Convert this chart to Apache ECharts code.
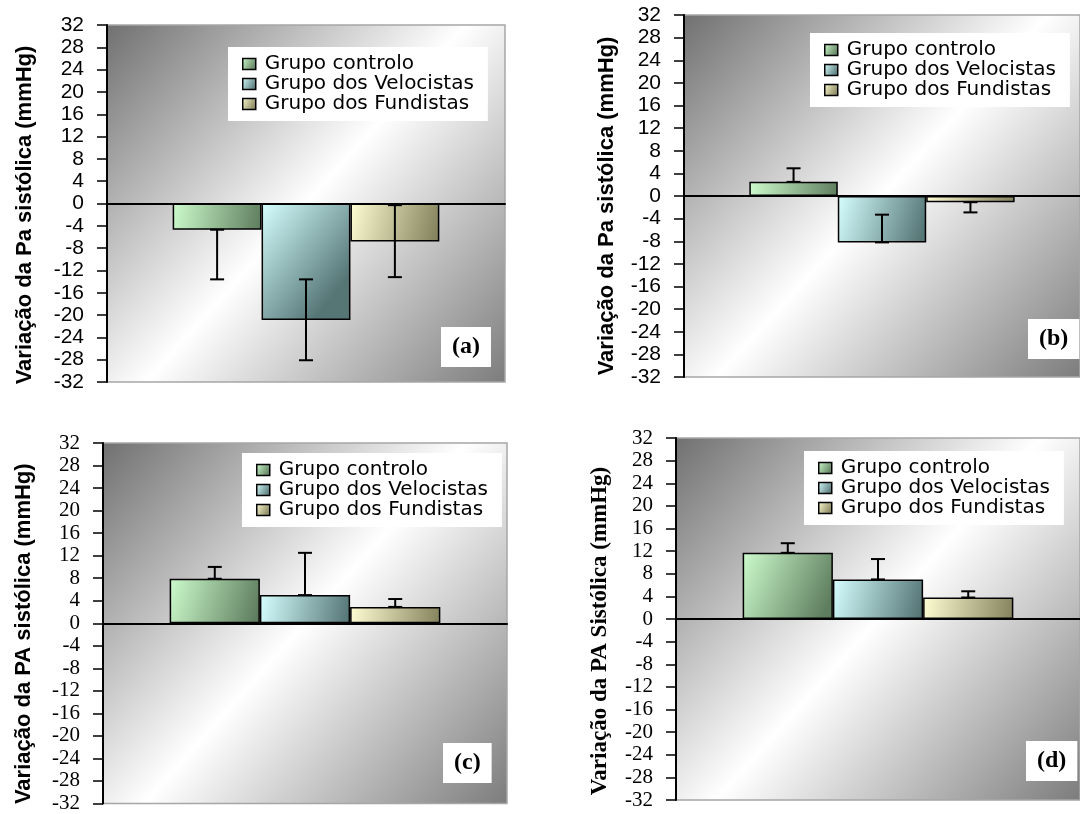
<!DOCTYPE html>
<html>
<head>
<meta charset="utf-8">
<script src="https://cdn.jsdelivr.net/npm/echarts@6/dist/echarts.min.js"></script>
<style>
  html, body { margin: 0; padding: 0; background: #ffffff; }
  #chart { width: 1080px; height: 814px; }
</style>
</head>
<body>
<div id="chart"></div>
<script>
// One unlabeled category per panel, three groups side by side
const categories = [''];
const groupNames = ['Grupo controlo', 'Grupo dos Velocistas', 'Grupo dos Fundistas'];

// Value axis range and step (mmHg)
const yMin = -32;
const yMax = 32;
const yStep = 4;

// Mean change of systolic pressure per group, panels (a)-(d)
const meansA = [-4.7, -20.9, -6.8];
const meansB = [2.5, -8.2, -1.1];
const meansC = [7.9, 5.0, 2.9];
const meansD = [11.7, 7.0, 3.8];

// Error whiskers per group: [lower end, upper end]
const whiskersA = [[-13.6, -4.7], [-28.1, -13.6], [-13.2, -0.3]];
const whiskersB = [[2.5, 4.9], [-8.2, -3.3], [-2.9, -1.1]];
const whiskersC = [[7.9, 10.0], [5.0, 12.5], [2.9, 4.3]];
const whiskersD = [[11.7, 13.4], [7.0, 10.6], [3.8, 4.9]];

// Panel tags and axis titles
const panelTags = ['(a)', '(b)', '(c)', '(d)'];
const axisTitles = [
  'Variação da Pa sistólica (mmHg)',
  'Variação da Pa sistólica (mmHg)',
  'Variação da PA sistólica (mmHg)',
  'Variação da PA Sistólica (mmHg)'
];

const CATEGORY_GAP = 0.33;

const lg = (x2, y2, stops) => new echarts.graphic.LinearGradient(0, 0, x2, y2,
  stops.map((c, i) => ({ offset: i / (stops.length - 1), color: c })));

const barFills = [
  lg(1, 0.6, ['#cdfccd', '#5f7e5f']),
  lg(1, 0.6, ['#d6ffff', '#567676']),
  lg(1, 0.6, ['#fffdd2', '#85835d'])
];
const plotFill = () => lg(1, 1, ['#707070', '#ffffff', '#7c7c7c']);

// Layout of the four panels
const panels = [
  { means: meansA, whiskers: whiskersA, grid: { left: 107, top: 25, width: 398, height: 357 },
    legend: { left: 228, top: 47 }, tag: { left: 441, top: 327 },
    tickFont: 'Liberation Sans', titleFont: 'Liberation Sans', titleSize: 22, nameGap: 71, shift: 23 },
  { means: meansB, whiskers: whiskersB, grid: { left: 684, top: 15, width: 401, height: 362 },
    legend: { left: 810, top: 33 }, tag: { left: 1028, top: 319 },
    tickFont: 'Liberation Sans', titleFont: 'Liberation Sans', titleSize: 22, nameGap: 66, shift: 20 },
  { means: meansC, whiskers: whiskersC, grid: { left: 103, top: 443, width: 404, height: 363 },
    legend: { left: 242, top: 453 }, tag: { left: 443, top: 743 },
    tickFont: 'Liberation Serif', titleFont: 'Liberation Sans', titleSize: 22, nameGap: 68, shift: 21 },
  { means: meansD, whiskers: whiskersD, grid: { left: 676, top: 438, width: 409, height: 362 },
    legend: { left: 804, top: 451 }, tag: { left: 1026, top: 741 },
    tickFont: 'Liberation Serif', titleFont: 'Liberation Serif', titleSize: 23, nameGap: 64, shift: 24 }
];

function whiskerSeries(p, k, gi) {
  return {
    type: 'custom',
    xAxisIndex: gi,
    yAxisIndex: gi,
    z: 5,
    silent: true,
    data: [[0, p.whiskers[k][0], p.whiskers[k][1]]],
    encode: { x: 0, y: [1, 2] },
    renderItem(params, api) {
      const band = api.size([1, 0])[0];
      const bw = band * (1 - CATEGORY_GAP) / 3;
      const cx = api.coord([api.value(0), 0])[0] + (k - 1) * bw;
      const yLo = api.coord([api.value(0), api.value(1)])[1];
      const yHi = api.coord([api.value(0), api.value(2)])[1];
      const cap = 7;
      const st = { stroke: '#000', lineWidth: 2 };
      return {
        type: 'group',
        children: [
          { type: 'line', shape: { x1: cx, y1: yLo, x2: cx, y2: yHi }, style: st },
          { type: 'line', shape: { x1: cx - cap, y1: yLo, x2: cx + cap, y2: yLo }, style: st },
          { type: 'line', shape: { x1: cx - cap, y1: yHi, x2: cx + cap, y2: yHi }, style: st }
        ]
      };
    }
  };
}

const option = {
  animation: false,
  backgroundColor: '#ffffff',
  grid: panels.map(p => ({
    left: p.grid.left, top: p.grid.top, width: p.grid.width, height: p.grid.height,
    show: true, backgroundColor: plotFill(), borderColor: '#a6a6a6', borderWidth: 1.5
  })),
  title: panels.map((p, i) => ({
    text: panelTags[i],
    left: p.tag.left, top: p.tag.top,
    backgroundColor: '#ffffff',
    padding: [8, 11, 8, 11],
    textStyle: { fontFamily: 'Liberation Serif', fontWeight: 'bold', fontSize: 24, color: '#000' }
  })),
  legend: panels.map(p => ({
    data: groupNames,
    orient: 'vertical',
    left: p.legend.left, top: p.legend.top,
    backgroundColor: '#ffffff',
    padding: [7, 14, 7, 14],
    itemGap: 0,
    itemWidth: 13, itemHeight: 11,
    icon: 'rect',
    selectedMode: false,
    itemStyle: { borderColor: '#000', borderWidth: 1.5 },
    textStyle: { fontFamily: 'DejaVu Sans', fontSize: 20, lineHeight: 20, color: '#000', padding: [0, 0, 0, 4] }
  })),
  xAxis: panels.map((p, i) => ({
    type: 'category', gridIndex: i, data: categories,
    axisLine: { onZero: true, lineStyle: { color: '#000', width: 2 } },
    axisTick: { show: false }, axisLabel: { show: false }, splitLine: { show: false }
  })),
  yAxis: panels.map((p, i) => ({
    type: 'value', gridIndex: i, min: yMin, max: yMax, interval: yStep,
    name: axisTitles[i], nameLocation: 'middle', nameRotate: 90, nameGap: p.nameGap,
    nameTextStyle: { fontFamily: p.titleFont, fontWeight: 'bold', fontSize: p.titleSize, color: '#000',
      padding: [0, p.shift, 0, 0] },
    axisLine: { show: true, onZero: false, lineStyle: { color: '#000', width: 2 } },
    axisTick: { show: true, length: 10, lineStyle: { color: '#000', width: 1.5 } },
    axisLabel: { margin: 23, fontFamily: p.tickFont, fontSize: 21, color: '#000',
      showMinLabel: true, showMaxLabel: true },
    splitLine: { show: false }
  })),
  series: panels.flatMap((p, i) => [
    ...groupNames.map((name, k) => ({
      type: 'bar', name, xAxisIndex: i, yAxisIndex: i,
      data: [p.means[k]],
      barGap: '0%', barCategoryGap: (CATEGORY_GAP * 100) + '%',
      itemStyle: { color: barFills[k], borderColor: '#000', borderWidth: 1.5 }
    })),
    ...groupNames.map((name, k) => whiskerSeries(p, k, i))
  ])
};

const chart = echarts.init(document.getElementById('chart'), null, { renderer: 'canvas' });
chart.setOption(option);
</script>
</body>
</html>
